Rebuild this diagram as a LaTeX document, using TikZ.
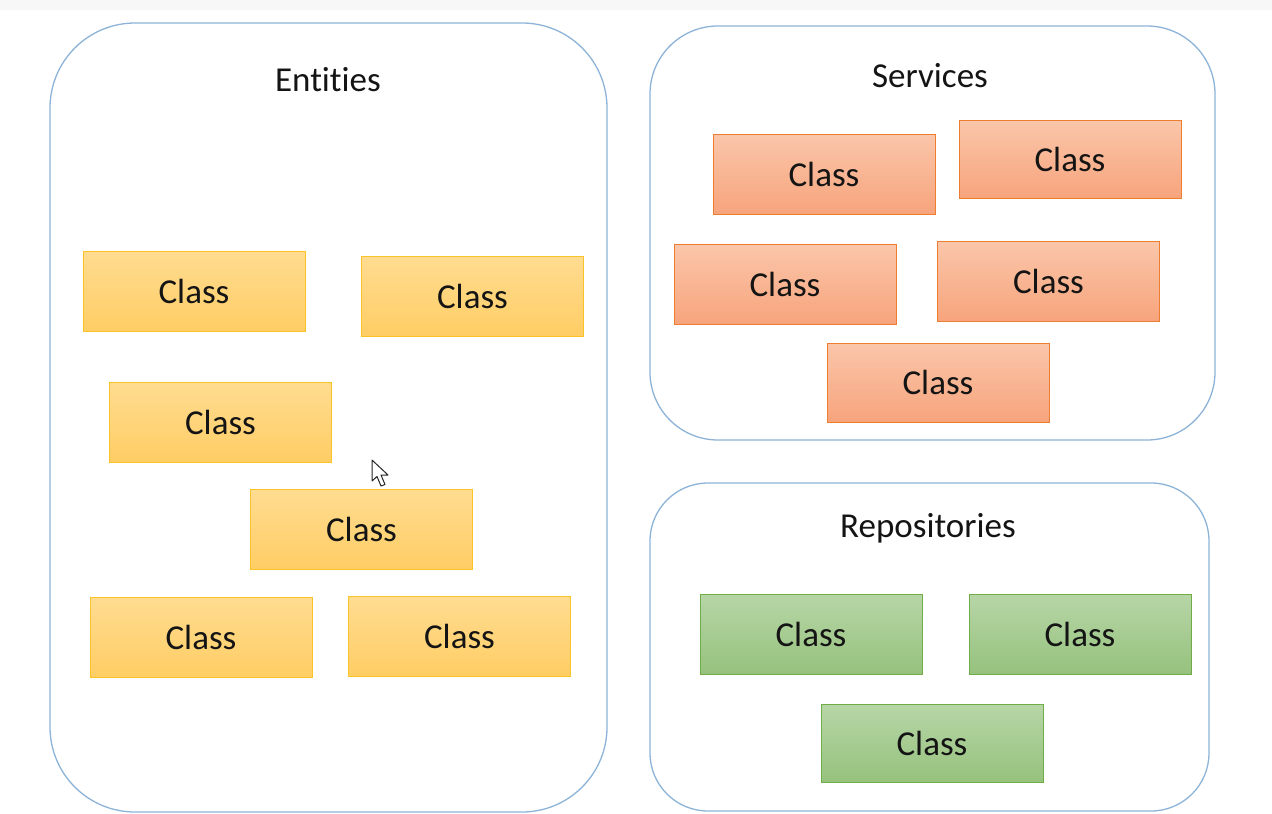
\documentclass[tikz,border=0pt]{standalone}
\usepackage{fontspec}
\setmainfont[Ligatures=NoCommon]{Carlito}
\definecolor{contborder}{RGB}{141,180,216}
\definecolor{ytop}{RGB}{255,220,145}
\definecolor{ybot}{RGB}{255,205,100}
\definecolor{yline}{RGB}{250,195,40}
\definecolor{otop}{RGB}{250,198,170}
\definecolor{obot}{RGB}{247,164,124}
\definecolor{oline}{RGB}{237,125,49}
\definecolor{gtop}{RGB}{183,214,167}
\definecolor{gbot}{RGB}{150,194,125}
\definecolor{gline}{RGB}{112,173,71}
\definecolor{txt}{RGB}{20,20,20}
\tikzset{
  container/.style={draw=contborder, line width=1.3pt, fill=white, inner sep=0pt},
  title/.style={font=\fontsize{35}{40}\selectfont, text=txt, inner sep=0pt},
  classbox/.style={minimum width=222pt, minimum height=80pt, inner sep=0pt,
    font=\fontsize{35}{40}\selectfont, text=txt, line width=1pt},
  entbox/.style={classbox, draw=yline, top color=ytop, bottom color=ybot},
  svcbox/.style={classbox, draw=oline, top color=otop, bottom color=obot},
  repbox/.style={classbox, draw=gline, top color=gtop, bottom color=gbot},
}
\begin{document}
\begin{tikzpicture}[x=1pt,y=-1pt]
\useasboundingbox (0,0) rectangle (1272,814);
\fill[white] (0,0) rectangle (1272,814);
\fill[black!3] (0,0) rectangle (1272,10);
% containers
\node[container, rounded corners=85pt, minimum width=557pt, minimum height=789pt] (ent) at (328.5,417.5) {};
\node[container, rounded corners=68pt, minimum width=565pt, minimum height=414pt] (svc) at (932.5,233) {};
\node[container, rounded corners=58pt, minimum width=559pt, minimum height=328pt] (rep) at (929.5,647) {};
% titles
\node[title] (entT) at (328,80) {Entities};
\node[title] (svcT) at (930,76) {Services};
\node[title] (repT) at (928,528) {Repositories};
% entities
\node[entbox] (e1) at (194,291) {Class};
\node[entbox] (e2) at (472.5,296) {Class};
\node[entbox] (e3) at (220.5,422) {Class};
\node[entbox] (e4) at (361.5,529.5) {Class};
\node[entbox] (e5) at (201,637) {Class};
\node[entbox] (e6) at (459.5,636.5) {Class};
% services
\node[svcbox] (s1) at (824,174) {Class};
\node[svcbox, minimum height=78pt] (s2) at (1070,159) {Class};
\node[svcbox] (s3) at (785,284) {Class};
\node[svcbox] (s4) at (1048.5,281) {Class};
\node[svcbox, minimum height=79pt] (s5) at (938,382.5) {Class};
% repositories
\node[repbox] (r1) at (811,634) {Class};
\node[repbox] (r2) at (1080,634) {Class};
\node[repbox, minimum height=78pt] (r3) at (932,743) {Class};
% mouse pointer
\draw[fill=white, draw=black!85, line width=1pt, line join=round]
  (372,460) -- (372,481) -- (377,476.5) -- (381,486) -- (385,484.5) -- (381,475) -- (388,475) -- cycle;
\end{tikzpicture}
\end{document}
